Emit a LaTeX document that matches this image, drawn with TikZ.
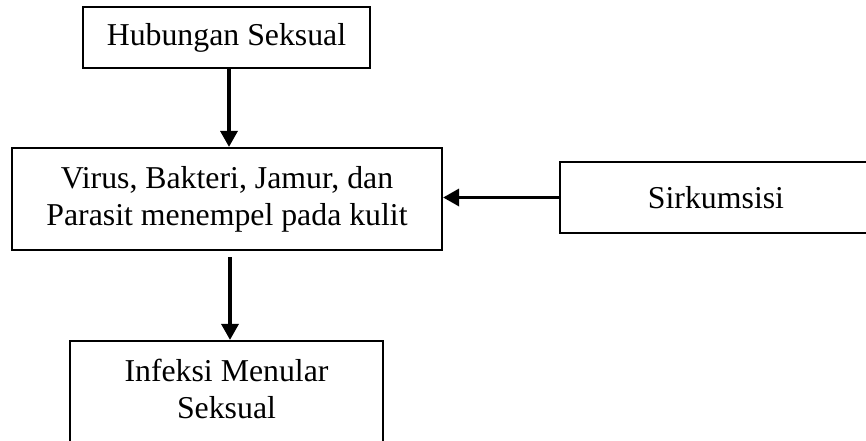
\documentclass[tikz,border=0pt]{standalone}
\usepackage{fontspec}
\setmainfont{Liberation Serif}
\usetikzlibrary{arrows.meta}
\begin{document}
\begin{tikzpicture}[x=1pt,y=-1pt,
  txt/.style={inner sep=0pt, align=center, font=\fontsize{31.8}{37}\selectfont},
  box/.style={txt, draw, line width=2.2pt},
  arr/.style={line width=3.4pt, -{Triangle[length=16pt,width=17pt]}}]
\useasboundingbox (0,0) rectangle (866,441);
\clip (0,0) rectangle (866,441);
\node[box, minimum width=287pt, minimum height=61pt] (b1) at (226.5,37.5) {Hubungan Seksual};
\node[box, minimum width=430pt, minimum height=102pt] (b2) at (227,199) {Virus, Bakteri, Jamur, dan\\Parasit menempel pada kulit};
\node[box, minimum width=312pt, minimum height=71pt] (b3) at (716,197.5) {Sirkumsisi};
\node[box, minimum width=313pt, minimum height=110pt] (b4) at (226.5,396) {};
\node[txt] (t4) at (226.5,389) {Infeksi Menular\\Seksual};
\coordinate (a1) at (229,0);
\coordinate (a2) at (230,257);
\draw[arr] (a1 |- b1.south) -- (a1 |- b2.north);
\draw[arr] (a2) -- (a2 |- b4.north);
\draw[arr] (b3.west) -- (b3.west -| b2.east);
\end{tikzpicture}
\end{document}
